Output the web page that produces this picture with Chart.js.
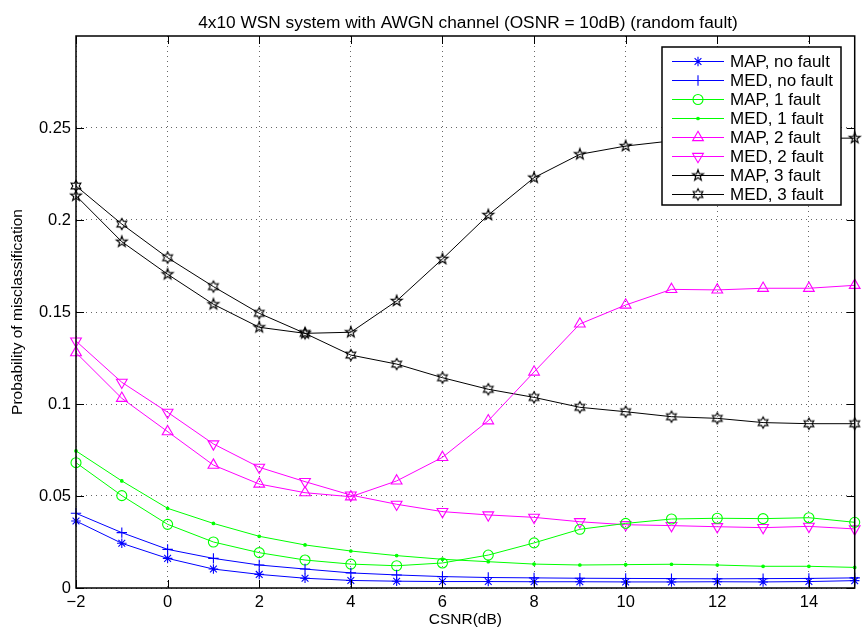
<!DOCTYPE html>
<html>
<head>
<meta charset="utf-8">
<script src="https://cdn.jsdelivr.net/npm/chart.js@4.4.0/dist/chart.umd.min.js"></script>
<style>
html,body{margin:0;padding:0;background:#fff;}
#wrap{width:862px;height:632px;}
</style>
</head>
<body>
<div id="wrap"><canvas id="c" width="862" height="632"></canvas></div>
<script>
// ---------- data ----------
const csnr = [-2,-1,0,1,2,3,4,5,6,7,8,9,10,11,12,13,14,15];
const mapNoFault = [0.0364,0.0243,0.0161,0.0103,0.0074,0.0053,0.0041,0.0037,0.0035,0.0035,0.0034,0.0034,0.0033,0.0033,0.0034,0.0033,0.0035,0.0040];
const medNoFault = [0.0406,0.0301,0.0210,0.0161,0.0125,0.0103,0.0082,0.0071,0.0062,0.0057,0.0055,0.0053,0.0052,0.0051,0.0050,0.0051,0.0052,0.0055];
const map1Fault  = [0.0681,0.0502,0.0346,0.0250,0.0192,0.0152,0.0130,0.0121,0.0136,0.0179,0.0245,0.0319,0.0351,0.0375,0.0379,0.0377,0.0382,0.0357];
const med1Fault  = [0.0745,0.0582,0.0433,0.0351,0.0281,0.0234,0.0201,0.0176,0.0156,0.0143,0.0130,0.0125,0.0127,0.0129,0.0125,0.0118,0.0118,0.0112];
const map2Fault  = [0.1279,0.1031,0.0850,0.0668,0.0565,0.0518,0.0496,0.0582,0.0710,0.0909,0.1174,0.1435,0.1538,0.1623,0.1620,0.1629,0.1629,0.1645];
const med2Fault  = [0.1342,0.1118,0.0955,0.0783,0.0656,0.0578,0.0505,0.0455,0.0415,0.0397,0.0384,0.0360,0.0344,0.0339,0.0333,0.0328,0.0335,0.0321];
const map3Fault  = [0.2132,0.1882,0.1705,0.1542,0.1417,0.1384,0.1390,0.1560,0.1788,0.2027,0.2230,0.2357,0.2402,0.2430,0.2435,0.2440,0.2444,0.2445];
const med3Fault  = [0.2185,0.1978,0.1795,0.1638,0.1493,0.1384,0.1266,0.1217,0.1143,0.1080,0.1036,0.0982,0.0958,0.0931,0.0922,0.0899,0.0893,0.0893];
const seriesNames = ['MAP, no fault','MED, no fault','MAP, 1 fault','MED, 1 fault','MAP, 2 fault','MED, 2 fault','MAP, 3 fault','MED, 3 fault'];
const xTicks = [-2,0,2,4,6,8,10,12,14];
const yTicks = [0,0.05,0.1,0.15,0.2,0.25];
const titleText = '4x10 WSN system with AWGN channel (OSNR = 10dB) (random fault)';
const xTitle = 'CSNR(dB)';
const yTitle = 'Probability of misclassification';

const FONT = '"Liberation Sans", Arial, Helvetica, sans-serif';

// ---------- custom star markers ----------
function starCanvas(points, outer, inner, color){
  const s = 16, c = document.createElement('canvas');
  c.width = s; c.height = s;
  const g = c.getContext('2d');
  g.strokeStyle = color; g.lineWidth = 1.15;
  g.beginPath();
  for(let i=0;i<points*2;i++){
    const r = i%2===0 ? outer : inner;
    const a = -Math.PI/2 + i*Math.PI/points;
    const px = s/2 + r*Math.cos(a), py = s/2 + r*Math.sin(a);
    if(i===0) g.moveTo(px,py); else g.lineTo(px,py);
  }
  g.closePath(); g.stroke();
  return c;
}
const pentagram = starCanvas(5, 5.7, 2.3, '#000');
const hexagram = starCanvas(6, 5.6, 3.2, '#000');

const BLUE='#0000ff', GREEN='#00ff00', MAG='#ff00ff', BLACK='#000000';
function ds(label, data, color, style, radius, rot, fill){
  return {
    label, data: csnr.map((x,i)=>({x, y:data[i]})),
    borderColor: color, backgroundColor: fill ? color : 'rgba(0,0,0,0)',
    pointBorderColor: color, pointBackgroundColor: fill ? color : 'rgba(0,0,0,0)',
    borderWidth: 1, pointBorderWidth: 1.1, pointRadius: radius, pointHoverRadius: radius,
    pointStyle: style, pointRotation: rot||0, tension: 0, clip: false, fill: false
  };
}
const datasets = [
  ds(seriesNames[0], mapNoFault, BLUE, 'star', 4.8),
  ds(seriesNames[1], medNoFault, BLUE, 'cross', 5.2),
  ds(seriesNames[2], map1Fault, GREEN, 'circle', 5),
  ds(seriesNames[3], med1Fault, GREEN, 'circle', 1.3, 0, true),
  ds(seriesNames[4], map2Fault, MAG, 'triangle', 6.2),
  ds(seriesNames[5], med2Fault, MAG, 'triangle', 6.2, 180),
  ds(seriesNames[6], map3Fault, BLACK, pentagram, 5),
  ds(seriesNames[7], med3Fault, BLACK, hexagram, 5)
];

// ---------- decoration plugin ----------
function drawMarker(ctx, d, x, y){
  ctx.save();
  ctx.strokeStyle = d.pointBorderColor; ctx.fillStyle = d.pointBackgroundColor;
  ctx.lineWidth = d.pointBorderWidth;
  if (Chart.helpers && Chart.helpers.drawPoint){
    Chart.helpers.drawPoint(ctx, {pointStyle: d.pointStyle, rotation: d.pointRotation, radius: d.pointRadius, borderWidth: d.pointBorderWidth}, x, y);
  } else if (typeof d.pointStyle !== 'string'){
    ctx.drawImage(d.pointStyle, x - d.pointStyle.width/2, y - d.pointStyle.height/2);
  }
  ctx.restore();
}

const deco = {
  id: 'deco',
  afterDatasetsDraw(chart){
    const ctx = chart.ctx, a = chart.chartArea;
    const xs = chart.scales.x, ys = chart.scales.y;
    ctx.save();
    // frame
    ctx.strokeStyle = '#000'; ctx.lineWidth = 1.5;
    ctx.strokeRect(a.left, a.top, a.right - a.left, a.bottom - a.top);
    // inner ticks
    ctx.lineWidth = 1;
    ctx.beginPath();
    xTicks.forEach(v=>{
      const px = Math.round(xs.getPixelForValue(v)) + 0.5;
      ctx.moveTo(px, a.bottom); ctx.lineTo(px, a.bottom - 8);
      ctx.moveTo(px, a.top); ctx.lineTo(px, a.top + 8);
    });
    yTicks.forEach(v=>{
      const py = Math.round(ys.getPixelForValue(v)) + 0.5;
      ctx.moveTo(a.left, py); ctx.lineTo(a.left + 8, py);
      ctx.moveTo(a.right, py); ctx.lineTo(a.right - 8, py);
    });
    ctx.stroke();
    // title & axis titles
    ctx.fillStyle = '#000';
    ctx.font = '17.3px ' + FONT;
    ctx.textAlign = 'center'; ctx.textBaseline = 'alphabetic';
    ctx.fillText(titleText, 468, 28);
    ctx.font = '15.5px ' + FONT;
    ctx.textBaseline = 'middle';
    ctx.fillText(xTitle, (a.left + a.right)/2, 620);
    ctx.save();
    ctx.translate(18, (a.top + a.bottom)/2);
    ctx.rotate(-Math.PI/2);
    ctx.fillText(yTitle, 0, 0);
    ctx.restore();
    // legend
    const lx = 662, ly = 47, lw = 179, lh = 158;
    ctx.fillStyle = '#fff';
    ctx.fillRect(lx, ly, lw, lh);
    ctx.strokeStyle = '#000'; ctx.lineWidth = 1.5;
    ctx.strokeRect(lx, ly, lw, lh);
    ctx.font = '17px ' + FONT;
    ctx.textAlign = 'left'; ctx.textBaseline = 'middle';
    chart.data.datasets.forEach((d, i)=>{
      const ry = 61 + i*19;
      ctx.strokeStyle = d.borderColor; ctx.lineWidth = 1;
      ctx.beginPath(); ctx.moveTo(672, ry + 0.5); ctx.lineTo(724, ry + 0.5); ctx.stroke();
      drawMarker(ctx, d, 698, ry + 0.5);
      ctx.fillStyle = '#000';
      ctx.fillText(d.label, 730, ry + 1);
    });
    ctx.restore();
  }
};

new Chart(document.getElementById('c'), {
  type: 'line',
  data: { datasets },
  options: {
    responsive: false, animation: false,
    layout: { padding: { top: 36, right: 4, left: 0, bottom: 0 } },
    plugins: { legend: { display: false }, title: { display: false }, tooltip: { enabled: false } },
    scales: {
      x: {
        type: 'linear', min: -2, max: 15,
        afterBuildTicks: s => { s.ticks = xTicks.map(v => ({ value: v })); },
        afterFit: s => { s.height = 44; },
        ticks: { color: '#000', font: { size: 16.5, family: FONT }, padding: 5, maxRotation: 0, autoSkip: false,
                 callback: v => String(v).replace('-', '\u2212') },
        grid: { color: 'rgba(0,0,0,0.6)', lineWidth: 1, drawTicks: false },
        border: { display: false, dash: [1, 4] }
      },
      y: {
        type: 'linear', min: 0, max: 0.3,
        afterBuildTicks: s => { s.ticks = yTicks.map(v => ({ value: v })); },
        afterFit: s => { s.width = 76; },
        ticks: { color: '#000', font: { size: 16.5, family: FONT }, padding: 5, autoSkip: false,
                 callback: v => String(Math.round(v * 100) / 100) },
        grid: { color: 'rgba(0,0,0,0.6)', lineWidth: 1, drawTicks: false },
        border: { display: false, dash: [1, 4] }
      }
    }
  },
  plugins: [deco]
});
</script>
</body>
</html>
